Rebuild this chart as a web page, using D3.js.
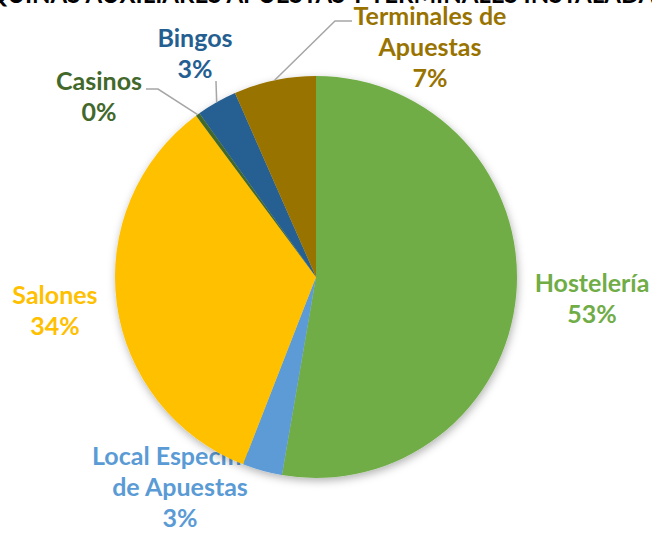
<!DOCTYPE html>
<html lang="es">
<head>
<meta charset="UTF-8">
<title>Máquinas y terminales por tipo de local</title>
<style>
    body { margin: 0; background: #fff; }
    svg text { font-family: Lato, "Open Sans", sans-serif; font-weight: bold; }
</style>
</head>
<body>
<div id="chart"></div>
<script src="https://d3js.org/d3.v7.min.js"></script>
<script>

    // data (percent of total)
    var categories = ["Hostelería", "Local Específico de Apuestas", "Salones", "Casinos", "Bingos", "Terminales de Apuestas"];
    var values = [52.7, 3.2, 33.9, 0.33, 3.25, 6.6];
    var labelLines = [["Hostelería"], ["Local Específico", "de Apuestas"], ["Salones"], ["Casinos"], ["Bingos"], ["Terminales de", "Apuestas"]];
    var title = "TOTALES MÁQUINAS AUXILIARES APUESTAS Y TERMINALES INSTALADAS EN LA CAPV";

    var colors = ["#70AD47", "#5B9BD5", "#FFC000", "#43682B", "#255E91", "#997300"];

    // label placement (centre x, first baseline y) and whether it has a leader
    var labelLayout = [
        { x: 592, y: 292 },
        { x: 180, y: 465 },
        { x: 55, y: 304 },
        { x: 99, y: 90, leader: "left" },
        { x: 195, y: 47, leader: "down" },
        { x: 430, y: 25, leader: "right" }
    ];

    var width = 652,
        height = 534,
        cx = 316,
        cy = 277,
        radius = 201,
        lineH = 31;

    var svg = d3.select("#chart").append("svg")
        .attr("width", width)
        .attr("height", height);

    var defs = svg.append("defs");
    var f = defs.append("filter").attr("id", "shadow")
        .attr("x", "-20%").attr("y", "-20%").attr("width", "140%").attr("height", "140%");
    f.append("feDropShadow")
        .attr("dx", 1).attr("dy", 3)
        .attr("stdDeviation", 4)
        .attr("flood-color", "#000")
        .attr("flood-opacity", 0.3);

    // title, cut off at the top of the picture
    svg.append("text")
        .attr("x", 326)
        .attr("y", 3)
        .attr("text-anchor", "middle")
        .attr("font-size", "24px")
        .attr("fill", "#000")
        .text(title);

    var pie = d3.pie().sort(null).value(function (d) { return d; });
    var arcs = pie(values);
    var arc = d3.arc().innerRadius(0).outerRadius(radius);

    // labels (drawn under the pie, the Local label is partly hidden by it)
    var labels = svg.append("g").attr("class", "labels");
    arcs.forEach(function (a, i) {
        var lay = labelLayout[i];
        var lines = labelLines[i].concat([Math.round(values[i]) + "%"]);
        var t = labels.append("text")
            .attr("text-anchor", "middle")
            .attr("font-size", "25px")
            .attr("fill", colors[i]);
        lines.forEach(function (s, j) {
            t.append("tspan")
                .attr("x", lay.x)
                .attr("y", lay.y + j * lineH)
                .text(s);
        });
    });

    var g = svg.append("g")
        .attr("transform", "translate(" + cx + "," + cy + ")");

    g.append("g")
        .attr("filter", "url(#shadow)")
        .selectAll("path")
        .data(arcs)
        .enter().append("path")
        .attr("d", arc)
        .attr("fill", function (d, i) { return colors[i]; });

    // leader lines, ending on the outer edge of each slice
    var leaders = svg.append("g")
        .attr("fill", "none")
        .attr("stroke", "#A6A6A6")
        .attr("stroke-width", 1.5);

    arcs.forEach(function (a, i) {
        var lay = labelLayout[i];
        if (!lay.leader) return;
        var mid = (a.startAngle + a.endAngle) / 2;
        var ex = cx + radius * Math.sin(mid),
            ey = cy - radius * Math.cos(mid);
        var pts;
        if (lay.leader === "left") {
            pts = [[lay.x + 47, lay.y - 1], [lay.x + 59, lay.y - 1], [ex, ey]];
        } else if (lay.leader === "down") {
            pts = [[lay.x + 21, lay.y + lineH + 3], [ex, ey]];
        } else {
            pts = [[lay.x - 78, lay.y - 4], [lay.x - 95, lay.y - 4], [ex, ey]];
        }
        leaders.append("path").attr("d", d3.line()(pts));
    });

</script>
</body>
</html>
